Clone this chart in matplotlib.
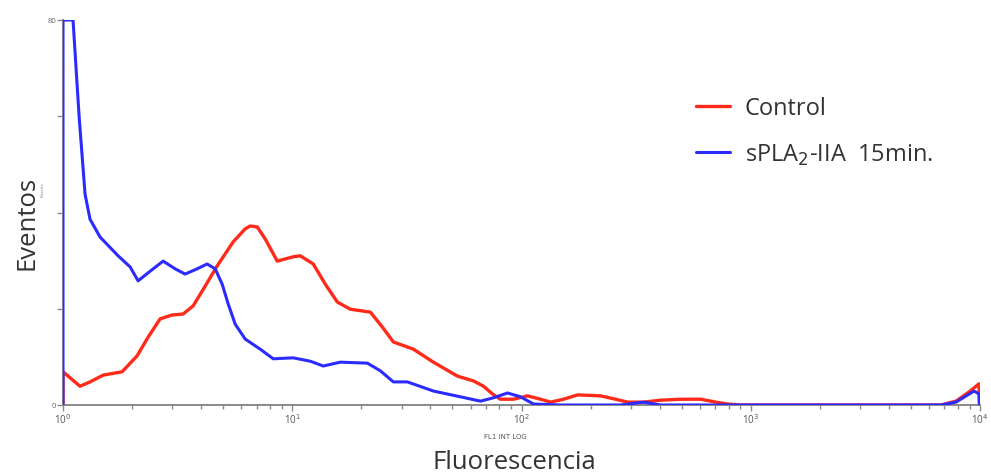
import matplotlib
matplotlib.use("Agg")
import matplotlib.pyplot as plt
from matplotlib.ticker import FixedLocator, NullFormatter, FixedFormatter, LogLocator

# Fluorescence intensity (FL1, log) and event counts for each histogram
control_fl = [1.0, 1.0, 1.186, 1.312, 1.495, 1.810, 2.104, 2.351, 2.652, 2.992, 3.342,
              3.696, 4.170, 4.704, 5.526, 6.233, 6.555, 7.035, 7.624, 8.602, 10.10,
              10.84, 12.35, 13.94, 15.72, 17.92, 21.91, 24.72, 27.61, 33.76, 41.28,
              52.55, 61.72, 68.26, 74.70, 80.96, 92.28, 106.2, 121.1, 133.9, 152.6,
              175.6, 221.3, 257.3, 290.4, 341.1, 404.6, 494.8, 605.0, 703.5, 793.6,
              904.4, 6757, 7859, 8954, 9899, 9950]
control_ev = [0.0, 6.9, 3.9, 4.8, 6.2, 6.9, 10.2, 14.1, 17.9, 18.7, 18.9,
              20.6, 24.7, 28.9, 33.9, 36.6, 37.2, 37.0, 34.5, 29.9, 30.8,
              31.0, 29.3, 25.1, 21.4, 19.9, 19.3, 16.2, 13.1, 11.6, 8.9,
              6.0, 5.0, 3.9, 2.3, 1.2, 1.2, 1.9, 1.2, 0.6, 1.2,
              2.1, 1.9, 1.2, 0.6, 0.6, 1.0, 1.2, 1.2, 0.6, 0.2,
              0.0, 0.0, 0.8, 2.7, 4.4, 0.0]

spla2_fl = [1.0, 1.0, 1.106, 1.175, 1.248, 1.312, 1.451, 1.739, 1.962, 2.126, 2.399,
            2.734, 3.084, 3.410, 3.847, 4.255, 4.611, 4.948, 5.255, 5.638, 6.233,
            7.250, 8.262, 10.10, 11.98, 13.66, 16.20, 21.26, 24.23, 27.61, 31.78,
            41.28, 54.16, 66.22, 75.45, 86.88, 99.0, 112.8, 148.0, 270.6, 341.1,
            404.6, 6757, 7859, 9415, 9899, 9950]
spla2_ev = [0.0, 80.0, 80.0, 60.1, 43.8, 38.6, 34.9, 31.0, 28.7, 25.8, 27.8,
            29.9, 28.3, 27.2, 28.3, 29.3, 28.3, 25.1, 21.0, 16.8, 13.7,
            11.6, 9.6, 9.8, 9.1, 8.1, 8.9, 8.7, 7.1, 4.8, 4.8,
            2.9, 1.7, 0.8, 1.5, 2.5, 1.7, 0.2, 0.0, 0.0, 0.6,
            0.0, 0.0, 0.6, 2.9, 2.3, 0.0]

series_labels = ["Control", "sPLA$_2$-IIA  15min."]
series_colors = ["#ff2a1a", "#2b2bff"]
x_tick_values = [1, 10, 100, 1000, 10000]
x_tick_labels = ["10$^0$", "10$^1$", "10$^2$", "10$^3$", "10$^4$"]
y_tick_values = [0, 20, 40, 60, 80]
y_tick_labels = ["0", "", "", "", "80"]

plt.rcParams["font.family"] = ["Open Sans", "DejaVu Sans"]

fig = plt.figure(figsize=(9.91, 4.77), dpi=100)
ax = fig.add_axes([63 / 991, 1 - 406 / 477, (980 - 63) / 991, (406 - 21) / 477])

axis_grey = "#8a8a8a"
ax.set_xscale("log")
ax.set_xlim(1, 10000)
ax.set_ylim(0, 80)

l1, = ax.plot(control_fl, control_ev, color=series_colors[0], lw=2.4,
              solid_joinstyle="round", solid_capstyle="round", zorder=3)
l2, = ax.plot(spla2_fl, spla2_ev, color=series_colors[1], lw=2.2,
              solid_joinstyle="round", solid_capstyle="round", zorder=4)

for side in ("top", "right"):
    ax.spines[side].set_visible(False)
ax.spines["bottom"].set_color(axis_grey)
ax.spines["left"].set_color("#7a7aa8")
ax.spines["bottom"].set_linewidth(1.4)
ax.spines["left"].set_linewidth(1.4)

ax.xaxis.set_major_locator(FixedLocator(x_tick_values))
ax.xaxis.set_major_formatter(FixedFormatter(x_tick_labels))
ax.xaxis.set_minor_locator(LogLocator(base=10, subs=range(2, 10)))
ax.xaxis.set_minor_formatter(NullFormatter())
ax.tick_params(axis="x", which="both", direction="out", colors=axis_grey,
               labelcolor="#555555", labelsize=7, pad=1)
ax.tick_params(axis="x", which="major", length=4, width=1)
ax.tick_params(axis="x", which="minor", length=3, width=1)

ax.yaxis.set_major_locator(FixedLocator(y_tick_values))
ax.yaxis.set_major_formatter(FixedFormatter(y_tick_labels))
ax.tick_params(axis="y", direction="out", length=4, width=1, colors=axis_grey,
               labelcolor="#666666", labelsize=5.5, pad=1)

ax.set_facecolor("none")

# Axis titles with the instrument's small captions
fig.text(505 / 991, 1 - 437 / 477, "FL1 INT LOG", fontsize=5, color="#555555",
         ha="center", va="center", family="DejaVu Sans")
fig.text(514 / 991, 1 - 463 / 477, "Fluorescencia", fontsize=18.5, color="#333333",
         ha="center", va="center")
fig.text(27 / 991, 1 - 223 / 477, "Eventos", fontsize=18.5, color="#333333",
         ha="center", va="center", rotation=90)
fig.text(43 / 991, 1 - 190 / 477, "Events", fontsize=3.2, color="#888888",
         ha="center", va="center", rotation=90, family="DejaVu Sans")

ax.legend([l1, l2], series_labels, loc="upper left",
          bbox_to_anchor=(675 / 991, 1 - 76 / 477), bbox_transform=fig.transFigure,
          frameon=False, fontsize=17, handlelength=1.45, handletextpad=0.6,
          labelspacing=0.9, labelcolor="#333333")

fig.savefig("out.png", dpi=100)
